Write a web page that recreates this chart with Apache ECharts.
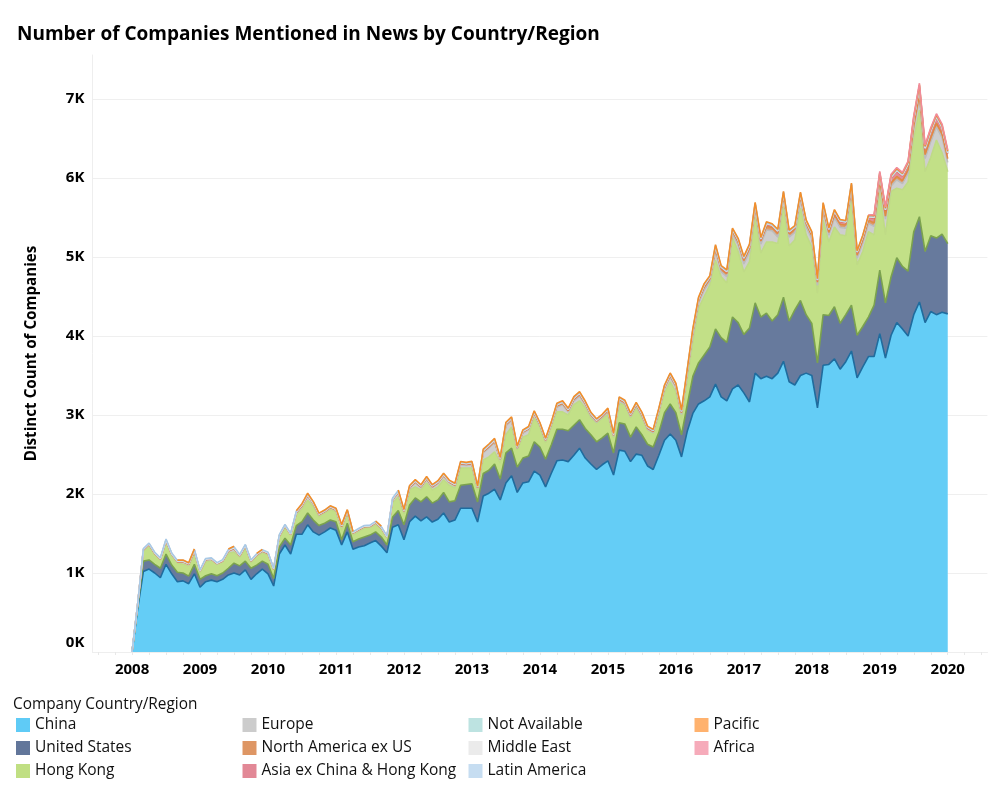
<!DOCTYPE html>
<html><head><meta charset="utf-8">
<style>html,body{margin:0;padding:0;background:#fff}#c{width:1000px;height:800px}</style>
<script src="https://cdn.jsdelivr.net/npm/echarts@6/dist/echarts.min.js"></script>
</head><body><div id="c"></div>
<script>
const n = null;
const china = [
0,550,1020,1050,1000,940,1110,990,890,900,865,990,
820,890,910,890,920,975,1000,975,1040,920,990,1050,
990,835,1240,1355,1240,1490,1490,1610,1520,1480,1520,1570,
1540,1355,1520,1300,1330,1345,1380,1410,1340,1255,1580,1610,
1420,1650,1720,1660,1710,1645,1680,1760,1645,1670,1820,1820,
1820,1645,1975,2010,2060,1925,2140,2230,2020,2140,2155,2290,
2240,2090,2260,2420,2430,2410,2490,2580,2455,2380,2310,2370,
2420,2240,2555,2540,2410,2505,2490,2355,2310,2490,2680,2760,
2680,2470,2790,3020,3140,3180,3230,3390,3230,3180,3330,3380,
3280,3165,3530,3460,3490,3460,3530,3680,3420,3380,3500,3530,
3500,3090,3630,3640,3710,3580,3675,3810,3470,3610,3740,3740,
4030,3720,4010,4170,4090,4000,4270,4430,4170,4310,4270,4300,
4280];
const unitedStates = [
0,30,130,115,110,120,130,110,120,100,95,120,
100,75,80,75,80,85,125,115,110,140,110,100,
120,95,90,85,115,110,160,150,150,120,110,100,
110,65,110,95,100,110,100,110,115,100,130,180,
190,210,230,240,255,240,245,260,255,245,290,300,
310,255,285,290,320,265,380,350,320,315,325,370,
355,350,360,400,390,390,380,360,375,370,350,340,
350,280,345,345,310,345,260,275,285,290,350,380,
350,280,330,470,520,580,630,700,750,740,910,790,
740,935,890,780,800,730,740,810,770,950,950,740,
660,570,640,620,660,580,595,580,540,510,500,650,
805,700,740,820,790,820,1050,1080,900,960,970,990,
890];
const hongKong = [
0,20,130,180,130,105,140,130,115,110,130,130,
80,175,175,145,140,190,140,110,160,70,115,105,
120,110,110,140,125,130,160,160,170,110,130,130,
130,120,100,85,90,115,100,90,105,85,175,175,
140,190,140,150,175,165,165,160,210,160,220,210,
200,150,170,170,155,200,230,270,220,265,270,300,
255,205,215,220,220,200,260,240,260,210,240,250,
230,190,250,245,240,240,210,180,175,220,250,280,
260,190,320,420,690,740,785,870,770,750,1000,900,
790,840,1090,810,900,1000,900,1150,950,885,1170,1010,
970,880,1200,930,1010,1120,1000,1360,890,950,1080,890,
995,860,1080,880,970,1130,1180,1350,1010,990,1240,1030,
910];
const europe = [
0,8,10,13,5,8,23,5,13,28,13,33,
23,23,8,5,8,23,38,13,28,18,8,18,
13,5,23,13,5,28,33,53,33,23,13,23,
13,43,43,23,23,13,5,23,8,13,38,48,
22,22,52,32,42,32,42,42,32,27,42,32,
42,22,92,112,117,42,112,82,12,52,62,52,
22,27,37,59,89,39,49,59,39,29,9,9,
39,19,29,9,19,24,29,9,9,39,49,59,
59,69,69,102,62,82,47,102,62,82,52,82,
102,122,92,112,152,142,82,112,112,97,107,102,
102,102,115,85,115,95,95,85,85,105,105,108,
98,198,68,108,78,108,118,148,168,198,168,188,
118];
const northAmerica = [
0,3,4,5,4,4,6,4,5,5,6,6,
4,5,4,4,5,6,7,5,6,4,5,6,
5,4,6,5,4,6,7,8,6,5,4,6,
5,6,6,4,5,4,5,5,4,4,7,8,
9,10,10,9,11,10,10,11,9,9,11,11,
11,8,13,14,15,9,14,13,10,12,12,12,
9,9,11,16,17,16,18,19,17,15,14,14,
17,13,18,17,15,16,16,14,13,17,18,19,
19,20,24,36,34,36,32,42,36,38,32,38,
44,48,42,40,48,42,46,38,42,40,44,42,
42,40,42,36,42,40,40,38,38,40,42,42,
45,40,44,42,40,44,46,52,48,50,48,50,
48];
const asiaEx = [
0,2,3,4,3,3,5,3,4,4,5,5,
3,4,3,3,4,5,6,4,4,3,4,4,
4,3,5,4,3,5,6,6,5,4,4,5,
5,5,5,4,4,4,4,4,4,3,6,7,
6,7,8,7,8,7,7,8,6,6,8,7,
8,5,10,11,11,6,9,8,6,8,8,8,
6,7,8,11,11,10,11,12,10,9,9,8,
10,8,11,10,9,10,10,8,8,10,11,11,
11,11,13,18,17,19,16,22,18,20,18,21,
22,24,22,20,26,22,24,18,20,20,22,22,
22,20,34,32,36,34,32,36,32,36,36,62,
62,70,60,65,60,66,70,80,70,75,70,72,
62];
const notAvailable = [
0,1,3,3,3,3,4,3,3,3,3,4,
2,3,3,2,3,3,4,3,3,2,3,3,
3,2,3,3,2,3,4,4,3,3,3,3,
3,3,3,2,3,2,3,3,3,2,3,4,
3,3,4,3,3,3,3,4,3,3,3,3,
4,3,4,4,4,3,4,4,3,3,4,4,
3,3,3,4,4,4,4,5,4,4,3,3,
4,3,4,4,4,4,4,3,3,4,4,4,
4,4,5,5,5,5,4,6,5,5,4,5,
6,6,5,5,6,5,6,5,5,5,6,5,
5,5,6,6,6,6,6,6,6,6,6,8,
9,8,8,8,7,8,9,10,9,9,8,9,
8];
const middleEast = [
0,1,2,2,2,2,3,2,2,2,2,3,
1,2,2,1,2,2,3,2,2,2,2,2,
2,2,2,2,2,2,3,3,2,2,2,2,
2,2,2,2,2,1,2,2,2,2,3,3,
3,3,3,3,3,3,3,3,3,3,3,3,
3,2,3,4,4,3,3,3,3,3,3,3,
3,2,3,3,3,3,4,4,3,3,3,3,
3,3,3,3,3,3,3,3,3,3,3,4,
4,4,4,4,4,4,4,5,4,4,4,4,
5,5,4,4,5,4,5,4,4,4,5,4,
4,4,5,5,5,5,5,5,5,5,5,6,
7,6,6,6,6,6,7,8,7,7,6,7,
6];
const latinAmerica = [
0,2,7,7,6,7,9,6,7,8,6,8,
6,7,6,6,7,8,9,7,8,6,6,7,
6,5,8,7,6,8,9,9,8,6,6,7,
7,7,7,6,6,7,7,6,6,6,7,8,
6,6,7,6,7,6,6,7,6,6,6,6,
7,5,7,8,8,5,7,7,5,6,6,6,
5,6,6,7,7,6,7,7,6,6,6,5,
6,5,6,6,5,6,6,5,5,6,6,6,
6,6,6,7,7,7,6,8,6,7,6,6,
7,7,6,6,7,6,7,6,6,6,7,6,
6,6,7,6,7,6,6,6,6,6,6,8,
8,8,8,8,7,8,9,10,9,9,8,9,
8];
const pacific = [
n,3,n,n,n,n,n,n,4,5,5,6,
n,n,n,n,n,6,6,n,n,n,5,5,
n,n,n,n,n,5,6,7,6,5,5,5,
5,6,6,5,n,n,n,5,6,n,n,7,
6,7,8,7,8,7,8,8,7,7,8,8,
8,6,9,10,10,7,9,9,7,8,9,9,
7,7,7,8,9,8,9,10,8,8,8,7,
8,7,9,8,8,8,8,7,7,8,8,9,
9,9,9,10,10,10,9,12,10,10,9,10,
11,11,10,10,11,10,11,9,10,10,10,10,
10,10,9,8,9,8,8,9,8,8,8,10,
10,10,10,10,9,10,11,12,11,11,10,11,
10];
const africa = [
n,n,n,n,n,n,n,n,n,n,n,n,
n,n,n,n,n,n,n,n,n,n,n,n,
n,n,n,n,n,n,n,n,n,n,n,n,
n,n,n,n,n,n,n,n,n,n,n,n,
n,n,n,n,n,n,n,n,n,n,n,n,
n,n,n,n,n,n,n,n,n,n,n,n,
n,n,n,n,n,n,n,n,n,n,n,n,
n,n,n,n,n,n,n,n,n,n,n,n,
n,n,n,n,n,n,n,n,n,n,n,n,
n,n,n,n,n,n,n,n,n,n,n,n,
n,n,n,n,n,n,n,n,n,n,4,12,
14,16,14,15,13,15,16,20,17,18,16,17,
15];

const seriesNames = ['China','United States','Hong Kong','Europe','North America ex US','Asia ex China & Hong Kong','Not Available','Middle East','Latin America','Pacific','Africa'];
const seriesValues = [china,unitedStates,hongKong,europe,northAmerica,asiaEx,notAvailable,middleEast,latinAmerica,pacific,africa];
const fillColors = ['#5FCBF6','#62769A','#C0DF83','#CCCCCC','#DE9664','#E28896','#BDE3E1','#EBEBEB','#C6DDF1','#FFB26E','#F6ABBA'];
const lineColors = ['#1F6C9E','#7BA24E','#BFDB86','#BDBDBD','#E08A45','#E2605F','#BDE3E1','#E5E5E5','#A9C9E6','#F28E2B','#F08C9A'];
const legendColumns = [
  ['China','United States','Hong Kong'],
  ['Europe','North America ex US','Asia ex China & Hong Kong'],
  ['Not Available','Middle East','Latin America'],
  ['Pacific','Africa']
];
const legendLefts = [11,237.5,463.5,689.5];

const FONT = '"Open Sans","Noto Sans",sans-serif';
const PAD = 7;
const months = [];
for (let k = -PAD; k < 145 + PAD; k++) {
  const y = 2008 + Math.floor(k / 12), m = ((k % 12) + 12) % 12;
  months.push(y + '-' + String(m + 1).padStart(2, '0'));
}
const padNulls = new Array(PAD).fill(null);

const chart = echarts.init(document.getElementById('c'), null, {renderer:'canvas'});
chart.setOption({
  animation:false,
  title:[
    {text:'Number of Companies Mentioned in News by Country/Region',left:12,top:20,
     textStyle:{fontFamily:FONT,fontSize:19,fontWeight:'bold',color:'#000'}},
    {text:'Company Country/Region',left:8,top:692,
     textStyle:{fontFamily:FONT,fontSize:15.4,fontWeight:'normal',color:'#111'}}
  ],
  legend:legendColumns.map((names,i)=>({
    orient:'vertical',left:legendLefts[i],top:712,icon:'rect',itemWidth:14,itemHeight:14,itemGap:7,
    selectedMode:false,
    itemStyle:{borderWidth:0},
    textStyle:{fontFamily:FONT,fontSize:15.5,color:'#111'},
    data:names.map(nm=>({name:nm,itemStyle:{color:fillColors[seriesNames.indexOf(nm)],borderWidth:0}}))
  })),
  grid:{left:92.4,top:55,width:895,height:597,containLabel:false},
  xAxis:{
    type:'category',data:months,boundaryGap:false,
    axisLine:{show:true,lineStyle:{color:'#eeeeee',width:1}},
    axisTick:{show:true,length:3,lineStyle:{color:'#e8e8e8'},interval:(i)=>((i-PAD)%3+3)%3===0},
    axisLabel:{interval:(i,v)=>v.endsWith('-01'),formatter:(v)=>v.slice(0,4),margin:10,
      fontFamily:FONT,fontSize:15,fontWeight:'bold',color:'#000'},
    splitLine:{show:false}
  },
  yAxis:{
    type:'value',min:0,max:7557,interval:1000,
    name:'Distinct Count of Companies',nameLocation:'middle',nameGap:53,
    nameTextStyle:{fontFamily:FONT,fontSize:15.2,fontWeight:'bold',color:'#000'},
    axisLine:{show:true,lineStyle:{color:'#eeeeee'}},
    axisTick:{show:false},
    axisLabel:{formatter:(v)=>(v/1000)+'K',margin:8,showMaxLabel:false,verticalAlignMinLabel:'bottom',
      padding:[6,0,2,0],
      fontFamily:FONT,fontSize:15,fontWeight:'bold',color:'#000'},
    splitLine:{show:true,showMaxLine:false,lineStyle:{color:'#efefef'}}
  },
  series:seriesNames.map((nm,i)=>({
    name:nm,type:'line',stack:'total',symbol:'none',showSymbol:false,
    connectNulls:false,silent:true,
    itemStyle:{color:fillColors[i]},
    lineStyle:{color:lineColors[i],width:1.6},
    areaStyle:{color:fillColors[i],opacity:0.97},
    emphasis:{disabled:true},
    data:padNulls.concat(seriesValues[i],padNulls)
  }))
});
</script></body></html>
